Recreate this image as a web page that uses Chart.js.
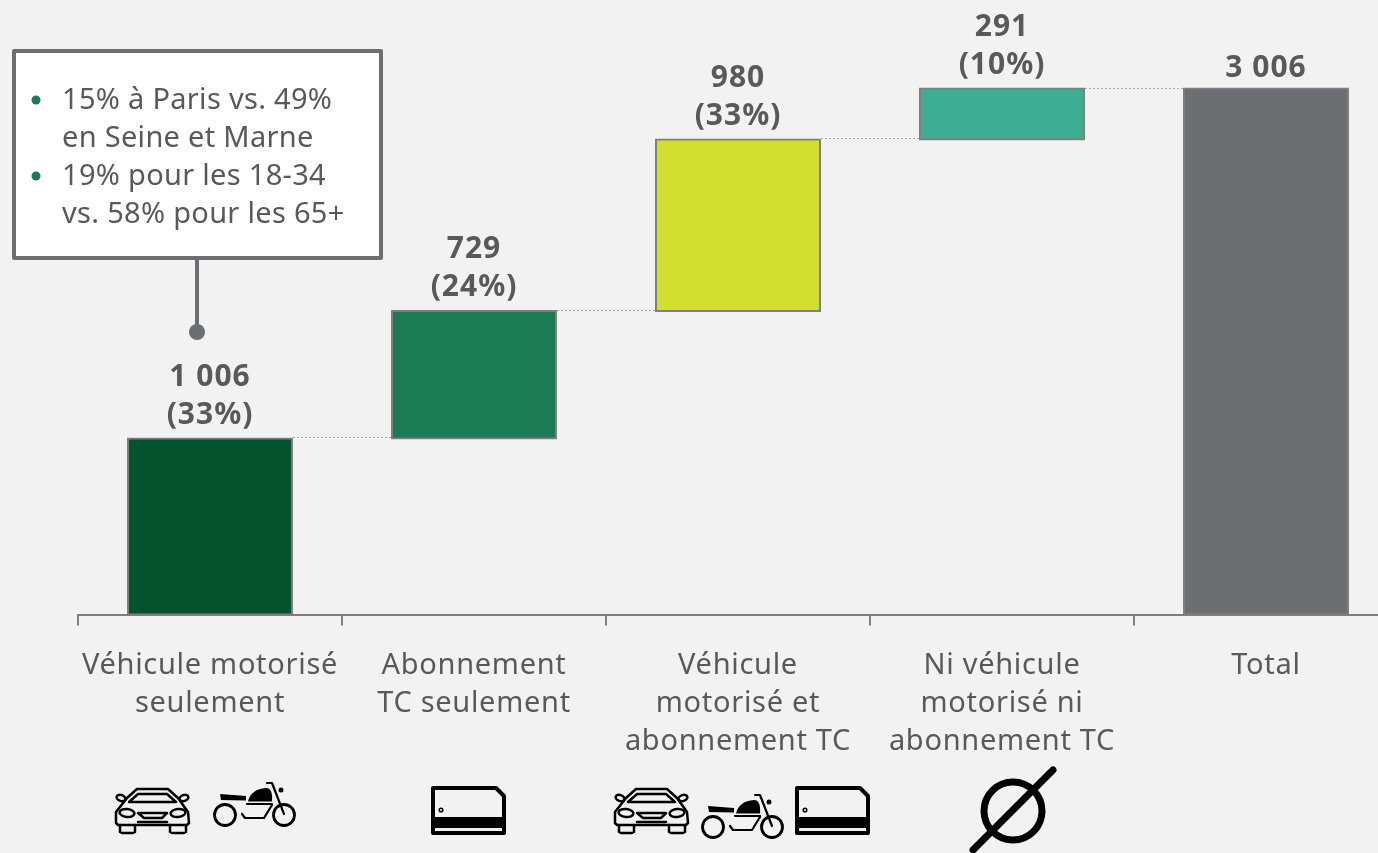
<!DOCTYPE html>
<html>
<head>
<meta charset="utf-8">
<title>Véhicule et abonnement TC</title>
<script src="https://cdn.jsdelivr.net/npm/chart.js@4"></script>
<style>
  html, body { margin: 0; height: 100%; background: #f2f2f2; overflow: hidden; }
  canvas { display: block; }
</style>
</head>
<body>
<canvas id="myChart" width="1420" height="853"></canvas>
<script>
const categories = [
  ['Véhicule motorisé', 'seulement'],
  ['Abonnement', 'TC seulement'],
  ['Véhicule', 'motorisé et', 'abonnement TC'],
  ['Ni véhicule', 'motorisé ni', 'abonnement TC'],
  ['Total']
];
const values = [1006, 729, 980, 291, 3006];
const bases = [0, 1006, 1735, 2715, 0];
const valueLabels = ['1 006', '729', '980', '291', '3 006'];
const shareLabels = ['(33%)', '(24%)', '(33%)', '(10%)', ''];
const barColors = ['#04522e', '#1a7b55', '#d3df2f', '#3eae92', '#6d6e71'];
const calloutLines = ['15% à Paris vs. 49%', 'en Seine et Marne', '19% pour les 18-34', 'vs. 58% pour les 65+'];

const textColor = '#595959';
const fontName = '"Noto Sans", sans-serif';

// dotted lines from the top of one bar to the next one
const connectors = {
  id: 'connectors',
  afterDatasetsDraw(chart) {
    const ctx = chart.ctx;
    const bars = chart.getDatasetMeta(0).data;
    const half = bars[0].width / 2 + 1;
    ctx.save();
    ctx.strokeStyle = '#a6a6a6';
    ctx.lineWidth = 1;
    ctx.setLineDash([2, 2]);
    for (let i = 0; i < bars.length - 1; i++) {
      const y = Math.round(chart.scales.y.getPixelForValue(bases[i] + values[i])) - 0.5;
      ctx.beginPath();
      ctx.moveTo(bars[i].x + half, y);
      ctx.lineTo(bars[i + 1].x - half, y);
      ctx.stroke();
    }
    ctx.restore();
  }
};

// value and share above each bar
const barLabels = {
  id: 'barLabels',
  afterDatasetsDraw(chart) {
    const ctx = chart.ctx;
    const bars = chart.getDatasetMeta(0).data;
    ctx.save();
    ctx.font = 'bold 30px ' + fontName;
    ctx.letterSpacing = '1px';
    ctx.fillStyle = textColor;
    ctx.textAlign = 'center';
    ctx.textBaseline = 'middle';
    bars.forEach((bar, i) => {
      if (shareLabels[i]) {
        ctx.fillText(valueLabels[i], bar.x, bar.y - 61);
        ctx.fillText(shareLabels[i], bar.x, bar.y - 23);
      } else {
        ctx.fillText(valueLabels[i], bar.x, bar.y - 20);
      }
    });
    ctx.restore();
  }
};

// white box with the two bullets, and its stem
const callout = {
  id: 'callout',
  afterDraw(chart) {
    const ctx = chart.ctx;
    ctx.save();
    ctx.strokeStyle = '#6d6e71';
    ctx.fillStyle = '#6d6e71';
    ctx.lineWidth = 4;
    ctx.beginPath();
    ctx.moveTo(197, 260);
    ctx.lineTo(197, 332);
    ctx.stroke();
    ctx.beginPath();
    ctx.arc(197, 332, 8, 0, Math.PI * 2);
    ctx.fill();
    ctx.lineJoin = 'round';
    ctx.fillStyle = '#fff';
    ctx.fillRect(14, 51, 367, 207);
    ctx.strokeRect(14, 51, 367, 207);
    ctx.fillStyle = '#1a7b55';
    [100, 176].forEach(y => {
      ctx.beginPath();
      ctx.arc(36, y, 4.5, 0, Math.PI * 2);
      ctx.fill();
    });
    ctx.font = '29px ' + fontName;
    ctx.letterSpacing = '0.3px';
    ctx.fillStyle = textColor;
    ctx.textBaseline = 'middle';
    calloutLines.forEach((line, i) => ctx.fillText(line, 62, 101 + i * 38));
    ctx.restore();
  }
};

function drawCar(ctx, x, y) {
  ctx.save();
  ctx.translate(x, y);
  ctx.lineWidth = 2.5;
  ctx.lineJoin = 'round';
  ctx.lineCap = 'round';
  ctx.beginPath();
  ctx.moveTo(22, 2); ctx.lineTo(53, 2); ctx.lineTo(63, 11); ctx.lineTo(73, 25); ctx.lineTo(74, 36);
  ctx.lineTo(72, 38); ctx.lineTo(3, 38); ctx.lineTo(1, 36); ctx.lineTo(1, 25); ctx.lineTo(12, 11);
  ctx.closePath();
  ctx.stroke();
  ctx.beginPath();
  ctx.moveTo(23, 7); ctx.lineTo(52, 7); ctx.lineTo(61, 15); ctx.lineTo(14, 15);
  ctx.closePath();
  ctx.stroke();
  ctx.beginPath(); ctx.ellipse(12, 26, 7.5, 4, 0.1, 0, Math.PI * 2); ctx.stroke();
  ctx.beginPath(); ctx.ellipse(63, 26, 7.5, 4, -0.1, 0, Math.PI * 2); ctx.stroke();
  ctx.beginPath(); ctx.ellipse(6, 11, 4.5, 3, 0.3, 0, Math.PI * 2); ctx.stroke();
  ctx.beginPath(); ctx.ellipse(69, 11, 4.5, 3, -0.3, 0, Math.PI * 2); ctx.stroke();
  ctx.beginPath();
  ctx.moveTo(23, 26); ctx.lineTo(52, 26); ctx.lineTo(47, 31); ctx.lineTo(29, 31);
  ctx.closePath();
  ctx.stroke();
  ctx.beginPath();
  ctx.moveTo(5, 38); ctx.lineTo(5, 45); ctx.lineTo(7, 46); ctx.lineTo(18, 46); ctx.lineTo(20, 45); ctx.lineTo(20, 38);
  ctx.moveTo(55, 38); ctx.lineTo(55, 45); ctx.lineTo(57, 46); ctx.lineTo(69, 46); ctx.lineTo(71, 45); ctx.lineTo(71, 38);
  ctx.moveTo(23, 35); ctx.lineTo(52, 35);
  ctx.stroke();
  ctx.restore();
}

function drawMoto(ctx, x, y) {
  ctx.save();
  ctx.translate(x, y);
  ctx.lineWidth = 2.8;
  ctx.lineJoin = 'round';
  ctx.lineCap = 'round';
  ctx.beginPath(); ctx.arc(12, 33, 10.5, 0, Math.PI * 2); ctx.stroke();
  ctx.beginPath(); ctx.arc(71, 33, 10.5, 0, Math.PI * 2); ctx.stroke();
  ctx.lineWidth = 2.2;
  ctx.beginPath();
  ctx.moveTo(54, 1); ctx.lineTo(59, 1); ctx.lineTo(71, 32);
  ctx.moveTo(34, 22); ctx.lineTo(59, 22);
  ctx.moveTo(29, 32); ctx.lineTo(32, 36); ctx.lineTo(51, 36); ctx.lineTo(59, 23);
  ctx.stroke();
  ctx.beginPath();
  ctx.moveTo(7, 12); ctx.lineTo(33, 14); ctx.lineTo(33, 18.5); ctx.lineTo(8, 18);
  ctx.closePath();
  ctx.fill();
  ctx.beginPath();
  ctx.moveTo(35, 19.5);
  ctx.quadraticCurveTo(38, 7, 53, 6);
  ctx.quadraticCurveTo(60, 6, 59, 19.5);
  ctx.closePath();
  ctx.fill();
  ctx.beginPath(); ctx.arc(68, 8, 2.5, 0, Math.PI * 2); ctx.fill();
  ctx.restore();
}

function drawCard(ctx, x, y) {
  ctx.save();
  ctx.translate(x, y);
  ctx.lineWidth = 4;
  ctx.lineJoin = 'round';
  ctx.beginPath();
  ctx.moveTo(2, 2); ctx.lineTo(65, 2); ctx.lineTo(73, 10); ctx.lineTo(73, 47); ctx.lineTo(2, 47);
  ctx.closePath();
  ctx.stroke();
  ctx.fillRect(2, 31, 71, 11);
  ctx.lineWidth = 1.5;
  ctx.beginPath(); ctx.arc(10, 24, 1.8, 0, Math.PI * 2); ctx.stroke();
  ctx.restore();
}

function drawNone(ctx, cx, cy) {
  ctx.save();
  ctx.lineWidth = 7;
  ctx.lineCap = 'round';
  ctx.beginPath(); ctx.arc(cx, cy, 29, 0, Math.PI * 2); ctx.stroke();
  ctx.beginPath(); ctx.moveTo(cx + 40, cy - 41); ctx.lineTo(cx - 40, cy + 39); ctx.stroke();
  ctx.restore();
}

// pictograms under the category labels
const icons = {
  id: 'icons',
  afterDraw(chart) {
    const ctx = chart.ctx;
    ctx.save();
    ctx.strokeStyle = '#000';
    ctx.fillStyle = '#000';
    drawCar(ctx, 115, 787);
    drawMoto(ctx, 213, 782);
    drawCard(ctx, 431, 786);
    drawCar(ctx, 614, 787);
    drawMoto(ctx, 701, 794);
    drawCard(ctx, 795, 786);
    drawNone(ctx, 1013, 811);
    ctx.restore();
  }
};

// the category labels have a little tracking in the original
const tickSpacing = {
  id: 'tickSpacing',
  beforeDraw(chart) { chart.ctx.letterSpacing = '0.7px'; },
  beforeDatasetsDraw(chart) { chart.ctx.letterSpacing = '0px'; }
};

new Chart(document.getElementById('myChart'), {
  type: 'bar',
  data: {
    labels: categories,
    datasets: [{
      data: values.map((v, i) => [bases[i], bases[i] + v]),
      backgroundColor: barColors,
      borderColor: '#7f7f7f',
      borderWidth: 2,
      borderSkipped: false,
      inflateAmount: 1,
      categoryPercentage: 1,
      barPercentage: 164 / 264
    }]
  },
  options: {
    responsive: false,
    animation: false,
    layout: { padding: { left: 78, right: 22, top: 0, bottom: 0 } },
    plugins: { legend: { display: false }, tooltip: { enabled: false } },
    scales: {
      x: {
        afterFit(scale) { scale.height = 238.5; },
        border: { color: '#7f7f7f', width: 2 },
        grid: { offset: true, drawOnChartArea: false, color: '#7f7f7f', lineWidth: 2, tickLength: 11 },
        ticks: {
          color: textColor,
          padding: 21,
          maxRotation: 0,
          autoSkip: false,
          font: { family: fontName, size: 29, lineHeight: 38 / 29 }
        }
      },
      y: { display: false, min: 0, max: 3512 }
    }
  },
  plugins: [tickSpacing, connectors, barLabels, callout, icons]
});
</script>
</body>
</html>
